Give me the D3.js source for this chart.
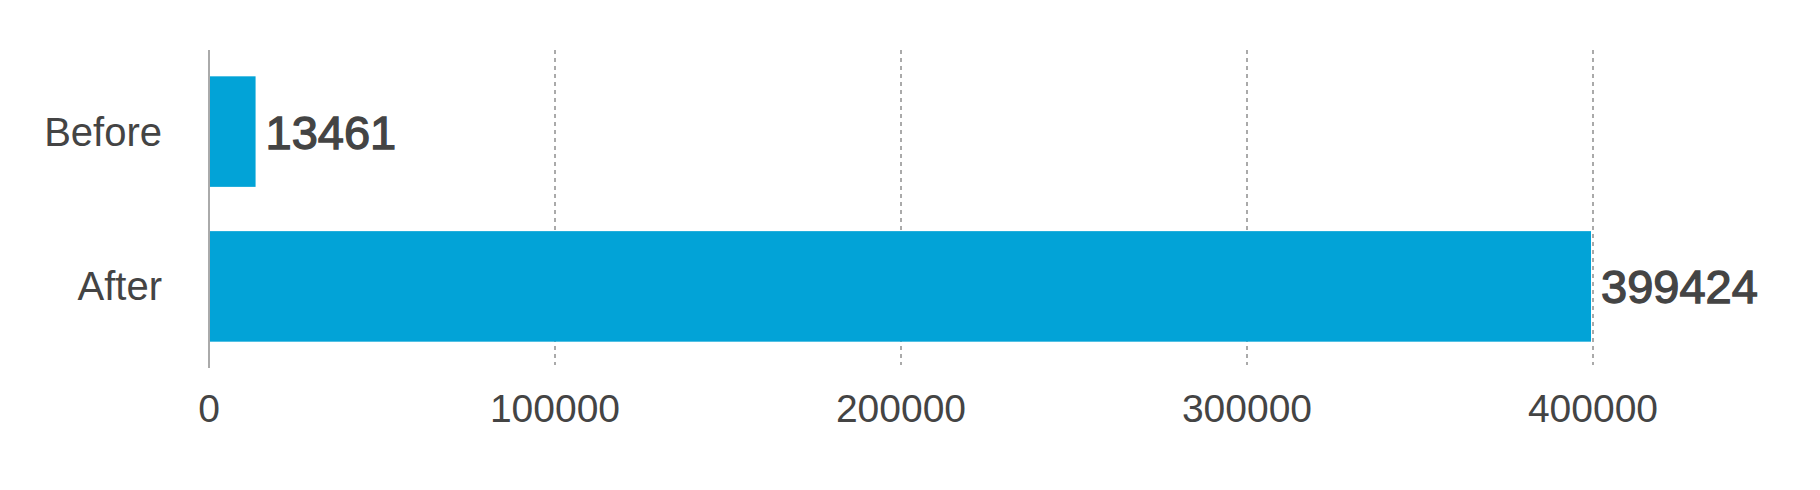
<!DOCTYPE html>
<head>
  <meta charset="utf-8">
  <script src="https://d3js.org/d3.v7.min.js"></script>
  <style>
    body {
      margin: 0;
      background-color: #fff;
      font-family: "Helvetica Neue", Helvetica, "Liberation Sans", Arial, sans-serif;
    }
  </style>
</head>
<body>
  <div id="chart"></div>
  <script>
    // data
    var categories = ['Before', 'After'];
    var values = [13461, 399424];
    var ticks = [0, 100000, 200000, 300000, 400000];

    var width = 1820;
    var height = 490;
    var margin = {top: 50, left: 209, right: 227, bottom: 122};

    var svg = d3.select('#chart').append('svg')
      .attr('width', width)
      .attr('height', height);

    var x = d3.scaleLinear()
      .domain([0, 400000])
      .range([margin.left, width - margin.right]);

    var y = d3.scaleBand()
      .domain(categories)
      .range([margin.top, height - margin.bottom])
      .paddingInner(0.286)
      .paddingOuter(0.17);

    // dashed grid lines
    svg.append('g')
      .selectAll('line')
      .data(ticks.slice(1))
      .enter().append('line')
      .attr('x1', d => x(d))
      .attr('x2', d => x(d))
      .attr('y1', margin.top)
      .attr('y2', height - margin.bottom - 3)
      .attr('stroke', '#aaa')
      .attr('stroke-width', 2)
      .attr('stroke-dasharray', '4,4');

    // bars
    svg.append('g')
      .selectAll('rect')
      .data(values)
      .enter().append('rect')
      .attr('x', x(0))
      .attr('y', (d, i) => y(categories[i]))
      .attr('width', d => x(d) - x(0))
      .attr('height', y.bandwidth())
      .attr('fill', '#02a3d7');

    // left axis line
    svg.append('line')
      .attr('x1', x(0))
      .attr('x2', x(0))
      .attr('y1', margin.top)
      .attr('y2', height - margin.bottom)
      .attr('stroke', '#aaa')
      .attr('stroke-width', 2);

    // category labels
    svg.append('g')
      .selectAll('text')
      .data(categories)
      .enter().append('text')
      .attr('x', 162)
      .attr('y', d => y(d) + y.bandwidth() / 2)
      .attr('dy', '0.35em')
      .attr('text-anchor', 'end')
      .attr('fill', '#444')
      .attr('font-size', '40px')
      .text(d => d);

    // value labels (medium weight: regular glyphs with a thin stroke)
    svg.append('g')
      .selectAll('text')
      .data(values)
      .enter().append('text')
      .attr('x', d => x(d) + 10)
      .attr('y', (d, i) => y(categories[i]) + y.bandwidth() / 2)
      .attr('dy', '0.36em')
      .attr('fill', '#444')
      .attr('stroke', '#444')
      .attr('stroke-width', 1.3)
      .attr('font-size', '47px')
      .text(d => d);

    // x tick labels
    svg.append('g')
      .selectAll('text')
      .data(ticks)
      .enter().append('text')
      .attr('x', d => x(d))
      .attr('y', 408)
      .attr('dy', '0.35em')
      .attr('text-anchor', 'middle')
      .attr('fill', '#444')
      .attr('font-size', '39px')
      .text(d => d);
  </script>
</body>
